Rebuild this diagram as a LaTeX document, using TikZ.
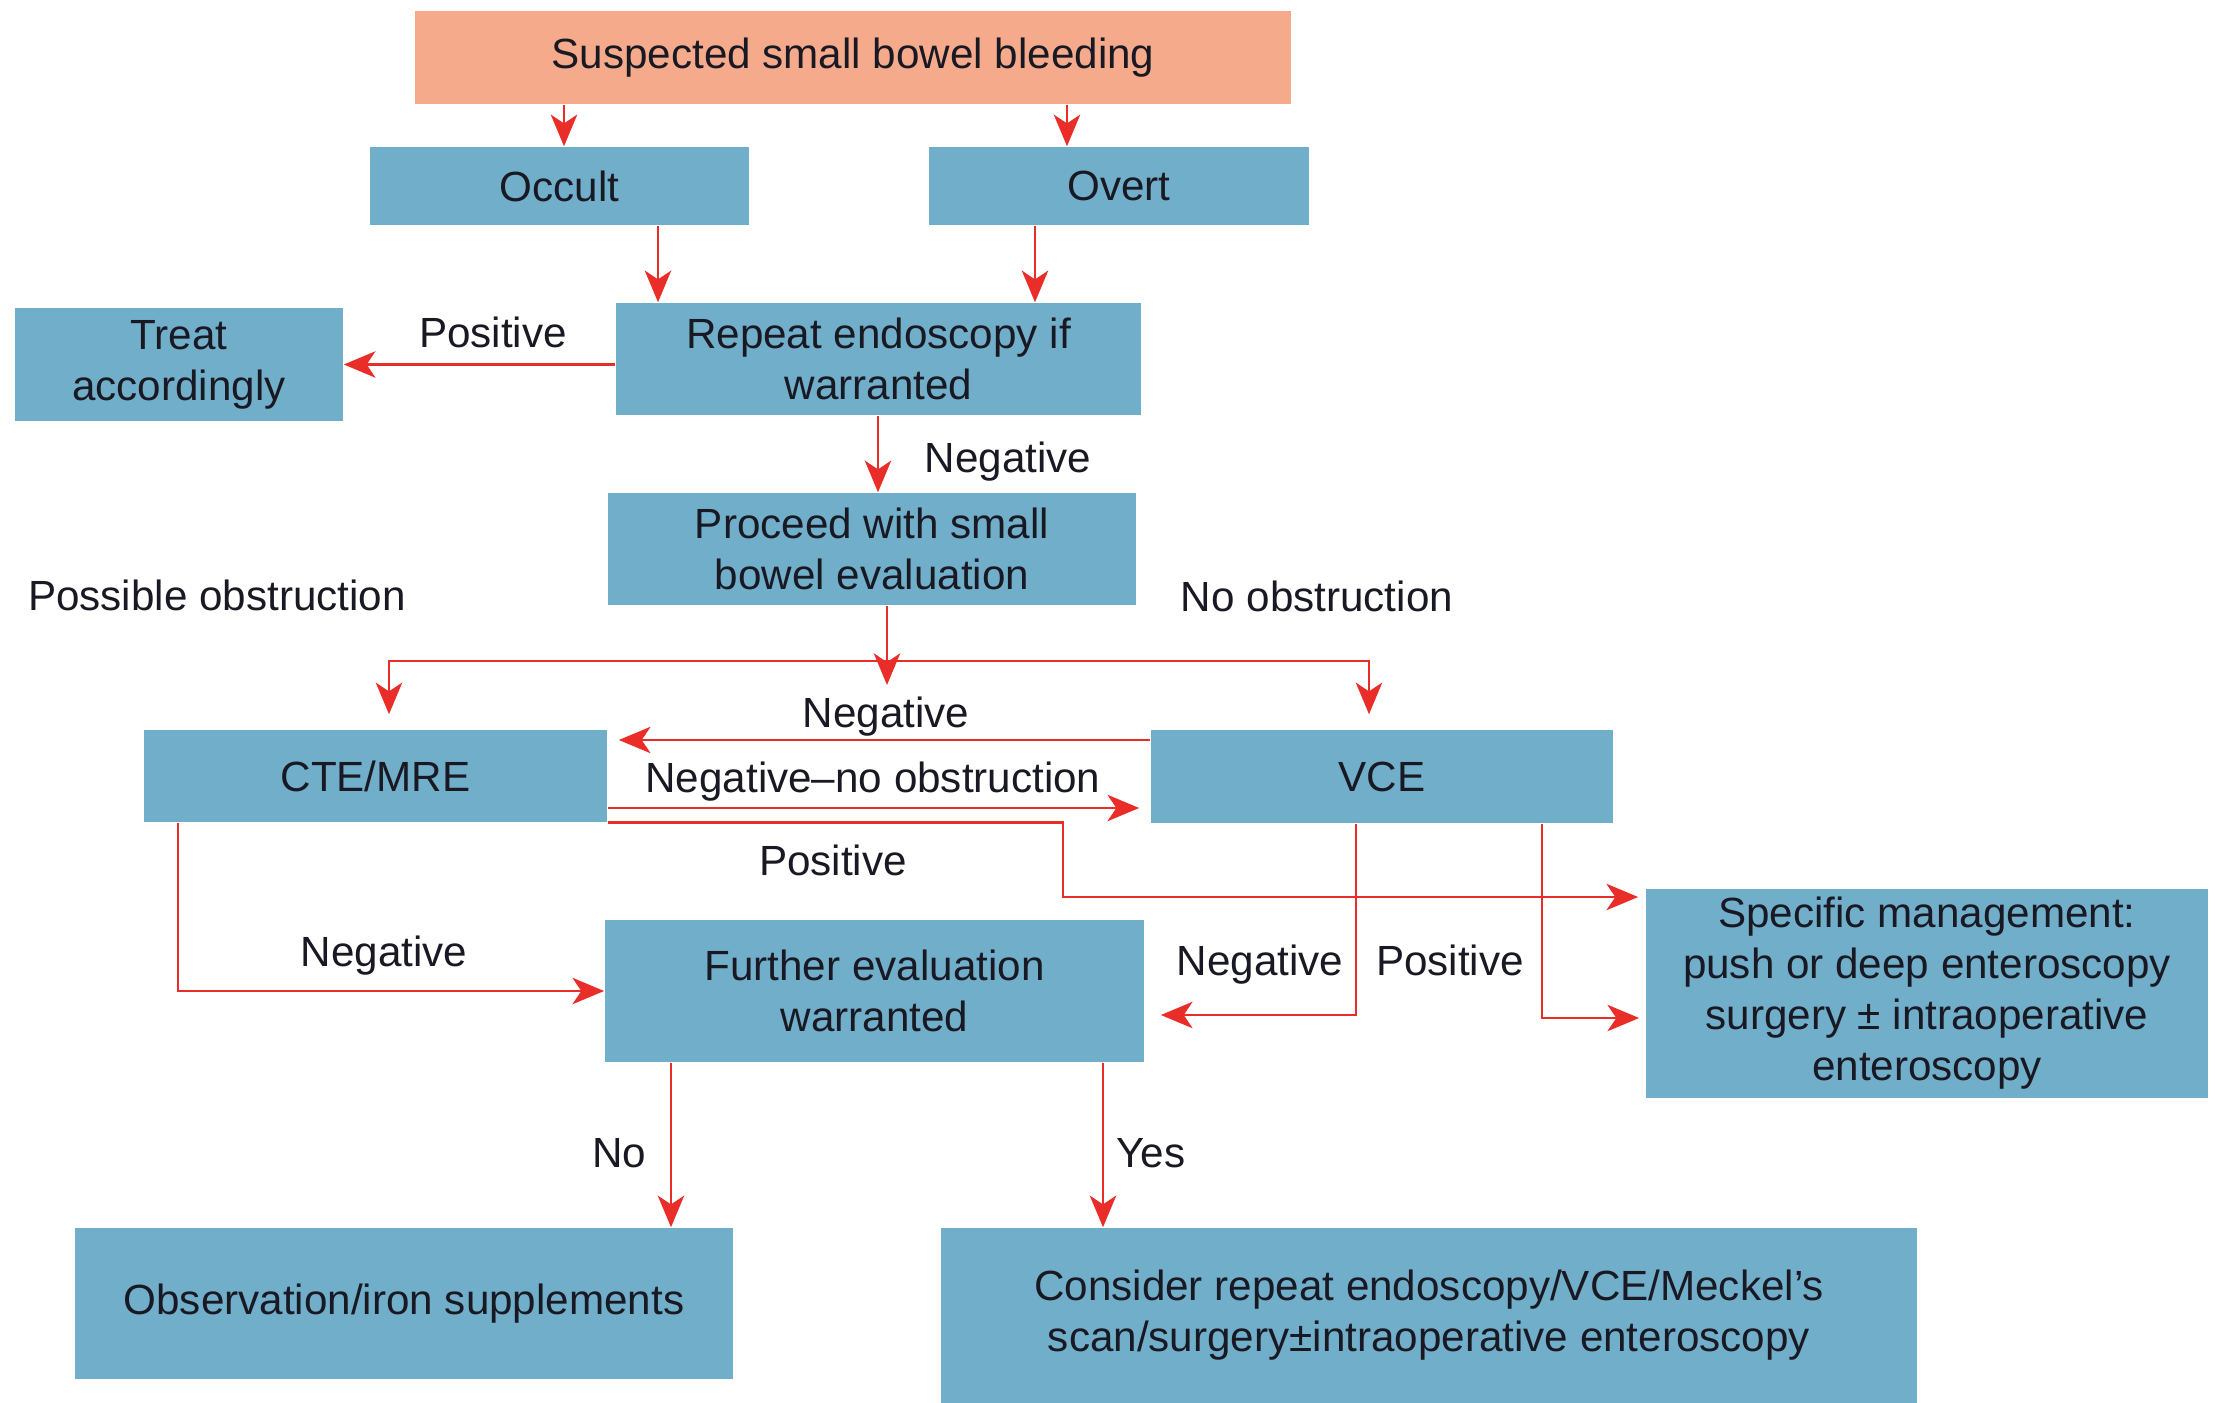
\documentclass[tikz,border=0pt]{standalone}
\usepackage{fontspec}
\setmainfont{Liberation Sans}
\usetikzlibrary{arrows.meta, calc}

\definecolor{boxblue}{RGB}{113,174,202}
\definecolor{boxsalmon}{RGB}{245,170,140}
\definecolor{arrowred}{RGB}{233,45,40}
\definecolor{txtdark}{RGB}{25,25,35}

\begin{document}
\begin{tikzpicture}[x=0.01cm, y=-0.01cm, >={Stealth[length=9pt,width=7.5pt,inset=2.5pt]},
    font=\fontsize{12}{14.5}\selectfont, text=txtdark,
    box/.style={fill=boxblue, inner sep=0pt, align=center},
    startbox/.style={box, fill=boxsalmon},
    flow/.style={->, draw=arrowred, line width=0.75pt},
    lbl/.style={inner sep=0pt, anchor=base}]

\useasboundingbox (0,0) rectangle (2215,1403);

% boxes
\node[startbox, minimum width=8.76cm, minimum height=0.93cm] (susp) at (853,57.5) {Suspected small bowel bleeding};
\node[box, minimum width=3.79cm, minimum height=0.78cm] (occult) at (559.5,186) {Occult};
\node[box, minimum width=3.80cm, minimum height=0.78cm] (overt) at (1119,186) {Overt};
\node[box, minimum width=5.25cm, minimum height=1.12cm] (repeat) at (878.5,359) {Repeat endoscopy if\\warranted};
\node[box, minimum width=3.28cm, minimum height=1.13cm] (treat) at (179,364.5) {Treat\\accordingly};
\node[box, minimum width=5.28cm, minimum height=1.12cm] (proceed) at (872,549) {Proceed with small\\bowel evaluation};
\node[box, minimum width=4.63cm, minimum height=0.92cm] (cte) at (375.5,776) {CTE/MRE};
\node[box, minimum width=4.62cm, minimum height=0.93cm] (vce) at (1382,776.5) {VCE};
\node[box, minimum width=5.62cm, minimum height=2.09cm] (specific) at (1927,993.5) {Specific management:\\push or deep enteroscopy\\surgery ± intraoperative\\enteroscopy};
\node[box, minimum width=5.39cm, minimum height=1.42cm] (further) at (874.5,991) {Further evaluation\\warranted};
\node[box, minimum width=6.58cm, minimum height=1.51cm] (obs) at (404,1303.5) {Observation/iron supplements};
\node[box, minimum width=9.76cm, minimum height=1.75cm] (consider) at (1429,1315.5) {Consider repeat endoscopy/VCE/Meckel’s\\scan/surgery±intraoperative enteroscopy};

% labels
\node[lbl] (lpos1) at (493,347) {Positive};
\node[lbl] (lneg1) at (1008,472) {Negative};
\node[lbl] (lposs) at (217,610) {Possible obstruction};
\node[lbl] (lnoob) at (1317,611) {No obstruction};
\node[lbl] (lneg2) at (886,727) {Negative};
\node[lbl] (lnegno) at (873,792) {Negative--no obstruction};
\node[lbl] (lpos2) at (833,875) {Positive};
\node[lbl] (lneg3) at (384,966) {Negative};
\node[lbl] (lneg4) at (1260,975) {Negative};
\node[lbl] (lpos3) at (1450,975) {Positive};
\node[lbl] (lno) at (619,1167) {No};
\node[lbl] (lyes) at (1151,1167) {Yes};

% connectors
\coordinate (split) at (887,685);
\coordinate (hub) at (887,661);

\draw[flow] (susp.south -| 564,0) -- (occult.north -| 564,0);
\draw[flow] (susp.south -| 1067,0) -- (overt.north -| 1067,0);
\draw[flow] (occult.south -| 658,0) -- (repeat.north -| 658,0);
\draw[flow] (overt.south -| 1035,0) -- (repeat.north -| 1035,0);
\draw[flow] (repeat.west |- treat.east) -- (treat.east);
\draw[flow] (repeat.south -| 878,0) -- (proceed.north -| 878,0);
\draw[flow] (proceed.south -| split) -- (split);
\draw[flow, shorten >=1.5mm] (hub) -| (cte.north -| 389,0);
\draw[flow, shorten >=1.5mm] (hub) -| (vce.north -| 1369,0);
\draw[flow, shorten >=1.1mm] (vce.west |- 0,740) -- (cte.east |- 0,740);
\draw[flow, shorten >=1.1mm] (cte.east |- 0,808) -- (vce.west |- 0,808);
\draw[flow, shorten >=0.7mm] (cte.south east) -| (1063,897) -- (specific.west |- 0,897);
\draw[flow] (cte.south -| 178,0) |- (further.west);
\draw[flow, shorten >=1.6mm] (vce.south -| 1356,0) |- (further.east |- 0,1015);
\draw[flow, shorten >=0.6mm] (vce.south -| 1542,0) |- (specific.west |- 0,1018);
\draw[flow] (further.south -| 671,0) -- (obs.north -| 671,0);
\draw[flow] (further.south -| 1103,0) -- (consider.north -| 1103,0);

\end{tikzpicture}
\end{document}
